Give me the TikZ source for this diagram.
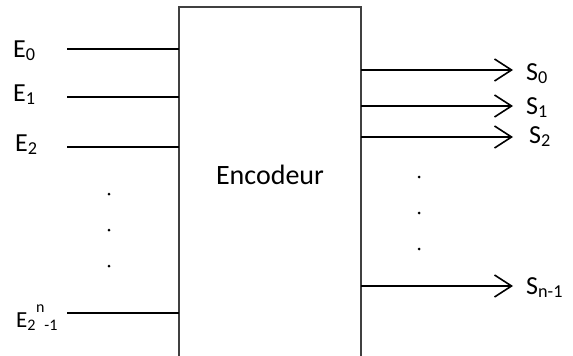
\documentclass[tikz,border=0pt]{standalone}
\usepackage{fontspec}
\setmainfont{Carlito}
\usetikzlibrary{arrows.meta}
\tikzset{
    wire/.style =     {line width=1.6pt,
                      draw=black},
    outwire/.style =  {wire,
                      -{Straight Barb[length=17pt,width=22pt]}},
    boxframe/.style = {line width=1.4pt,
                      draw=black!75},
    pinlabel/.style = {anchor=base west,
                      inner sep=0pt,
                      text=black,
                      font=\fontsize{26}{30}\selectfont},
    boxtext/.style =  {anchor=base,
                      inner sep=0pt,
                      text=black,
                      font=\fontsize{28}{32}\selectfont},
    dotmark/.style =  {circle,
                      fill=black,
                      inner sep=0pt,
                      minimum size=3pt}}

\begin{document}
\begin{tikzpicture}[x=1pt,y=-1pt]
            \useasboundingbox (0,0) rectangle (573,356);
            % the encoder block, open at the bottom
            \coordinate (bl) at (179,356);
            \coordinate (tl) at (179,7);
            \coordinate (tr) at (361,7);
            \coordinate (br) at (361,356);
            \draw [boxframe] (bl) -- (tl) -- (tr) -- (br);
            \node[boxtext]   (enc) at (270,184)  {Encodeur};

            % inputs
            \coordinate (e0) at (67,49);
            \coordinate (e1) at (67,97);
            \coordinate (e2) at (67,147);
            \coordinate (en) at (67,313);
            \draw [wire] (e0) -- (e0 -| bl);
            \draw [wire] (e1) -- (e1 -| bl);
            \draw [wire] (e2) -- (e2 -| bl);
            \draw [wire] (en) -- (en -| bl);
            \node[pinlabel]  (E0) at (13,57)   {E\textsubscript{0}};
            \node[pinlabel]  (E1) at (13,101)  {E\textsubscript{1}};
            \node[pinlabel]  (E2) at (15,151)  {E\textsubscript{2}};
            \node[pinlabel, font=\fontsize{23}{27}\selectfont]
                             (EN) at (16,327)  {E\textsubscript{2}\raisebox{0.62em}{\fontsize{16}{16}\selectfont n}\textsubscript{-1}};
            \node[dotmark]   (dl1) at (109,194) {};
            \node[dotmark]   (dl2) at (109,230) {};
            \node[dotmark]   (dl3) at (109,266) {};

            % outputs
            \coordinate (s0) at (513,70);
            \coordinate (s1) at (513,106);
            \coordinate (s2) at (513,137);
            \coordinate (sn) at (513,286);
            \draw [outwire] (s0 -| br) -- (s0);
            \draw [outwire] (s1 -| br) -- (s1);
            \draw [outwire] (s2 -| br) -- (s2);
            \draw [outwire] (sn -| br) -- (sn);
            \node[pinlabel]  (S0) at (526,80)  {S\textsubscript{0}};
            \node[pinlabel]  (S1) at (526,114) {S\textsubscript{1}};
            \node[pinlabel]  (S2) at (529,143) {S\textsubscript{2}};
            \node[pinlabel]  (SN) at (526,294) {S\textsubscript{n-1}};
            \node[dotmark]   (dr1) at (419,177) {};
            \node[dotmark]   (dr2) at (419,213) {};
            \node[dotmark]   (dr3) at (419,249) {};
        \end{tikzpicture}
\end{document}
